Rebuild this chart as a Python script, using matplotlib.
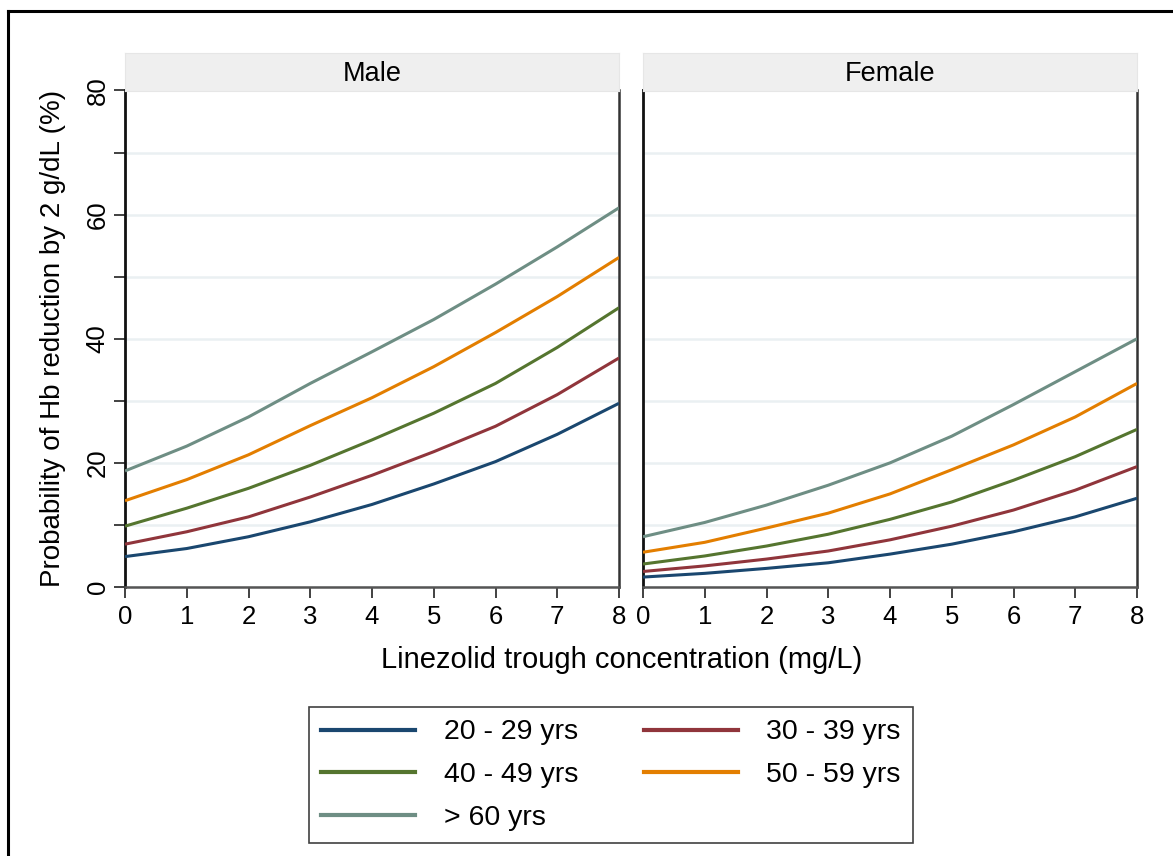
import matplotlib.pyplot as plt
from matplotlib.lines import Line2D

plt.rcParams['font.family'] = ['Liberation Sans', 'DejaVu Sans']

# trough concentration (mg/L)
conc = [0, 1, 2, 3, 4, 5, 6, 7, 8]

age_groups = ['20 - 29 yrs', '30 - 39 yrs', '40 - 49 yrs', '50 - 59 yrs', '> 60 yrs']
colors = ['#1a476f', '#90353b', '#55752f', '#e37e00', '#6e8e84']

# predicted probability (%) of Hb drop >= 2 g/dL
male_20 = [4.9, 6.2, 8.1, 10.5, 13.3, 16.6, 20.2, 24.6, 29.6]
male_30 = [6.9, 8.9, 11.3, 14.5, 18.0, 21.8, 25.9, 31.0, 36.9]
male_40 = [9.8, 12.7, 15.9, 19.6, 23.7, 28.0, 32.8, 38.6, 45.0]
male_50 = [13.9, 17.3, 21.3, 26.0, 30.5, 35.5, 41.0, 46.8, 53.1]
male_60 = [18.7, 22.7, 27.4, 32.8, 37.9, 43.1, 48.8, 54.8, 61.1]

female_20 = [1.6, 2.2, 3.0, 3.9, 5.3, 6.9, 8.9, 11.3, 14.3]
female_30 = [2.5, 3.4, 4.5, 5.8, 7.6, 9.8, 12.4, 15.6, 19.4]
female_40 = [3.7, 5.0, 6.6, 8.5, 10.9, 13.7, 17.2, 21.0, 25.4]
female_50 = [5.6, 7.2, 9.5, 11.9, 15.0, 18.9, 22.9, 27.4, 32.8]
female_60 = [8.1, 10.4, 13.2, 16.4, 20.0, 24.3, 29.4, 34.7, 40.0]

panels = [
    ('Male', [male_20, male_30, male_40, male_50, male_60]),
    ('Female', [female_20, female_30, female_40, female_50, female_60]),
]

fig = plt.figure(figsize=(11.73, 8.56), dpi=100)

W, H = 1173, 856
def box(x0, y0, x1, y1):
    # pixel box (top-left origin) -> figure fraction rect
    return [x0 / W, 1 - y1 / H, (x1 - x0) / W, (y1 - y0) / H]

lefts = [(125, 619), (643, 1137)]
top, bottom = 90.5, 587

for i, ((name, series), (x0, x1)) in enumerate(zip(panels, lefts)):
    ax = fig.add_axes(box(x0, top, x1, bottom))
    for vals, c in zip(series, colors):
        ax.plot(conc, vals, color=c, lw=2.2, solid_capstyle='butt', zorder=3)
    ax.set_xlim(0, 8)
    ax.set_ylim(0, 80)
    ax.set_yticks([0, 10, 20, 30, 40, 50, 60, 70, 80])
    ax.grid(axis='y', color='#eaf0f2', lw=1.8, zorder=0)
    ax.set_xticks(conc)
    ax.tick_params(axis='x', direction='out', length=8, width=1.3,
                   color='#333333', labelsize=18.5, pad=5)
    if i == 0:
        ax.set_yticklabels(['0', '', '20', '', '40', '', '60', '', '80'],
                           rotation=90, va='center')
        ax.tick_params(axis='y', direction='out', length=8, width=1.3,
                       color='#333333', labelsize=18.5, pad=3)
        ax.set_ylabel('Probability of Hb reduction by 2 g/dL (%)',
                      fontsize=20, labelpad=14)
    else:
        ax.tick_params(axis='y', length=0, labelleft=False)
    for s in ax.spines.values():
        s.set_linewidth(1.3)
    ax.spines['left'].set_color('#111111')
    ax.spines['left'].set_linewidth(2.0)
    ax.spines['top'].set_color('#222222')
    ax.spines['right'].set_color('#333333')
    ax.spines['right'].set_linewidth(1.8)
    ax.spines['bottom'].set_color('#555555')
    ax.spines['bottom'].set_linewidth(1.8)

    # facet strip
    sx = fig.add_axes(box(x0, 53, x1, top))
    sx.set_facecolor('#efefef')
    sx.set_xticks([])
    sx.set_yticks([])
    for s in sx.spines.values():
        s.set_color('#e6e6e6')
    sx.text(0.5, 0.45, name, ha='center', va='center', fontsize=19.5,
            transform=sx.transAxes)

fig.text(622 / W, 1 - 660 / H,
         'Linezolid trough concentration (mg/L)',
         ha='center', va='center', fontsize=21)

handles = [Line2D([], [], color=c, lw=3.0) for c in colors]
order = [0, 2, 4, 1, 3]
leg = fig.legend([handles[k] for k in order], [age_groups[k] for k in order],
                 ncol=2, loc='center', bbox_to_anchor=(611 / W, 1 - 775 / H),
                 fontsize=20.5, frameon=True, fancybox=False,
                 handlelength=3.3, columnspacing=2.3, labelspacing=0.58,
                 borderpad=0.45, borderaxespad=0, handletextpad=1.0)
leg.get_frame().set_edgecolor('#111111')
leg.get_frame().set_linewidth(1.2)

# outer frame
fig.add_artist(Line2D([8 / W, 1], [1 - 11 / H, 1 - 11 / H],
                      color='black', lw=2.2, transform=fig.transFigure))
fig.add_artist(Line2D([8 / W, 8 / W], [0, 1 - 11 / H],
                      color='black', lw=2.2, transform=fig.transFigure))

fig.savefig('out.png', dpi=100)
